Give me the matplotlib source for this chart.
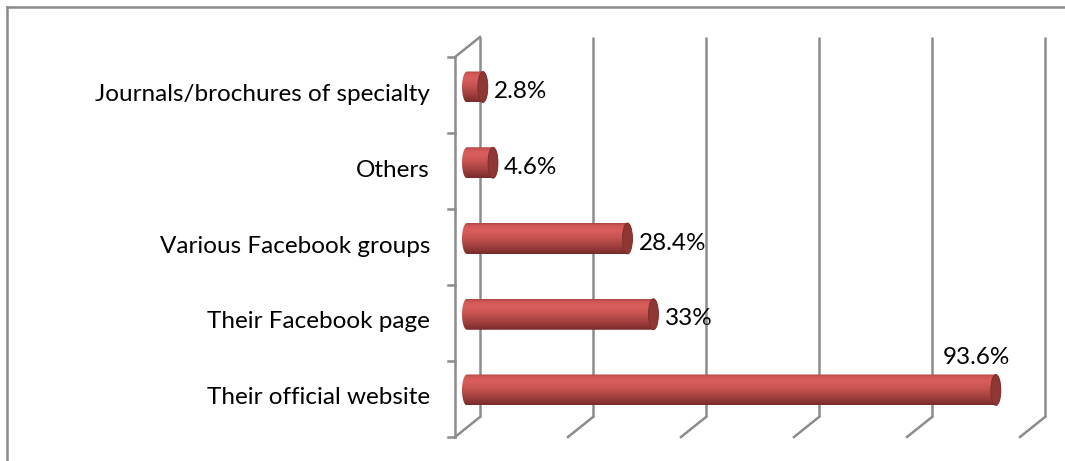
import numpy as np
import matplotlib
matplotlib.use("Agg")
import matplotlib.pyplot as plt
from matplotlib.path import Path
from matplotlib.patches import PathPatch, Ellipse
from matplotlib.lines import Line2D
from matplotlib.colors import LinearSegmentedColormap

plt.rcParams['font.family'] = ['Lato', 'DejaVu Sans']

# ---- data ----
categories = ["Their official website", "Their Facebook page", "Various Facebook groups",
              "Others", "Journals/brochures of specialty"]
values = [93.6, 33, 28.4, 4.6, 2.8]
value_labels = ["93.6%", "33%", "28.4%", "4.6%", "2.8%"]
grid_values = [0, 20, 40, 60, 80, 100]

W, H = 1065, 461
fig = plt.figure(figsize=(W / 100, H / 100), dpi=100)
ax = fig.add_axes([0, 0, 1, 1])
ax.set_axis_off()

# pixel mapping: x value 0 -> px 467, 100 -> px 1032 ; y cat 0 -> px 390, 1 unit = 75.75 px
sx = 5.65
sy = 75.75

# 3D depth offsets (data units)
back_dx, front_dx = 13 / sx, -12 / sx
back_bot, back_top = -(417 - 390) / sy, (390 - 37) / sy
front_bot, front_top = -(437 - 390) / sy, (390 - 57) / sy

gcol = '#8c8c8c'
lw = 1.8
# back wall gridlines + floor diagonals
for v in grid_values:
    ax.plot([v + back_dx, v + back_dx], [back_bot, back_top], color=gcol, lw=lw, solid_capstyle='butt', zorder=1)
    ax.plot([v + back_dx, v + front_dx], [back_bot, front_bot], color=gcol, lw=lw, zorder=1)
# left wall
ax.plot([front_dx, front_dx], [front_bot, front_top], color=gcol, lw=lw, zorder=1)
ax.plot([front_dx, back_dx], [front_top, back_top], color=gcol, lw=lw, zorder=1)
# left wall ticks
ncat = len(categories)
for k in range(ncat + 1):
    yy = front_bot + k * (front_top - front_bot) / ncat
    ax.plot([front_dx - 7 / sx, front_dx], [yy, yy], color=gcol, lw=lw, zorder=1)

# cylinders
cmap = LinearSegmentedColormap.from_list('cyl', [
    (0.0, '#7a2b2a'), (0.25, '#a0403e'), (0.55, '#c85452'), (0.78, '#d95f5d'),
    (0.92, '#cf5755'), (1.0, '#b04644')])
grad = np.linspace(0, 1, 64).reshape(-1, 1)
bh = 31 / sy
ew = 10 / sx  # ellipse width
for i, v in enumerate(values):
    y0, y1 = i - bh / 2, i + bh / 2
    t = np.linspace(np.pi / 2, 3 * np.pi / 2, 40)
    left = np.column_stack([0 + ew / 2 * np.cos(t), i + bh / 2 * np.sin(t)])
    t2 = np.linspace(-np.pi / 2, np.pi / 2, 40)
    right = np.column_stack([v + ew / 2 * np.cos(t2), i + bh / 2 * np.sin(t2)])
    verts = np.vstack([left, right, left[:1]])
    path = Path(verts)
    patch = PathPatch(path, facecolor='none', edgecolor='none')
    ax.add_patch(patch)
    im = ax.imshow(grad, cmap=cmap, aspect='auto', origin='lower',
                   extent=[-ew, v + ew, y0, y1], zorder=3, interpolation='bilinear')
    im.set_clip_path(patch)
    cap = Ellipse((v, i), ew, bh, facecolor='#8e3735', edgecolor='#7a2d2c', lw=0.6, zorder=4)
    ax.add_patch(cap)

# category labels
fs = 17.5
for i, c in enumerate(categories):
    ax.text(-37 / sx, i - 0.1, c, ha='right', va='center', fontsize=fs, color='black')

# value labels
for i, (v, lab) in enumerate(zip(values, value_labels)):
    if i == 0:
        ax.text(v - 3.4, i + bh / 2 + 0.23, lab, ha='center', va='center', fontsize=fs, color='black', zorder=5)
    else:
        ax.text(v + ew / 2 + 6 / sx, i - 0.06, lab, ha='left', va='center', fontsize=fs, color='black', zorder=5)

ax.set_xlim(-467 / sx, (W - 467) / sx)
ax.set_ylim(-(H - 390) / sy, 390 / sy)

# chart border (top and left visible)
fig.add_artist(Line2D([6.5 / W, 1.0], [1 - 7.5 / H, 1 - 7.5 / H], color='#8a8a8a', lw=1.8, transform=fig.transFigure))
fig.add_artist(Line2D([6.5 / W, 6.5 / W], [0, 1 - 7.5 / H], color='#8a8a8a', lw=1.8, transform=fig.transFigure))

fig.savefig('out.png', dpi=100, facecolor='white')
